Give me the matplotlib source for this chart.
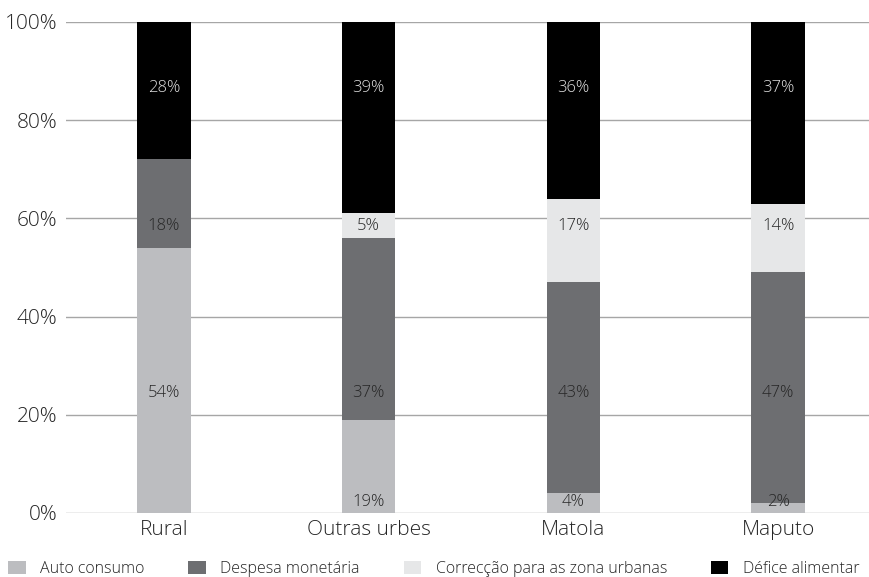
import matplotlib
matplotlib.use("Agg")
import matplotlib.pyplot as plt
import numpy as np

plt.rcParams['font.family'] = ['Open Sans', 'DejaVu Sans']
plt.rcParams['font.weight'] = 'light'

categories = ['Rural', 'Outras urbes', 'Matola', 'Maputo']
series_names = ['Auto consumo', 'Despesa monetária',
                'Correcção para as zona urbanas', 'Défice alimentar']
auto_consumo = [54, 19, 4, 2]
despesa = [18, 37, 43, 47]
correccao = [0, 5, 17, 14]
defice = [28, 39, 36, 37]

colors = ['#bcbdc0', '#6d6e71', '#e6e7e8', '#000000']
text_colors = ['#262626', '#262626', '#262626', '#e0e0e0']
# label heights used in the source chart (data units, per series)
label_y = [[24.4, 58.5, None, 86.6],
           [2.2, 24.4, 58.5, 86.6],
           [2.2, 24.4, 58.5, 86.6],
           [2.2, 24.4, 58.5, 86.6]]

fig = plt.figure(figsize=(8.69, 5.77), dpi=100)
ax = fig.add_axes([0.076, 0.111, 0.924, 0.851])

x = np.arange(len(categories))
series = [auto_consumo, despesa, correccao, defice]
bottom = np.zeros(len(categories))
for i, vals in enumerate(series):
    ax.bar(x, vals, bottom=bottom, width=0.26, color=colors[i],
           label=series_names[i], zorder=3)
    bottom += np.array(vals)

for c in range(len(categories)):
    for i, vals in enumerate(series):
        if vals[c] == 0:
            continue
        ax.text(x[c], label_y[c][i], f'{vals[c]}%', ha='center', va='center',
                fontsize=12, color=text_colors[i], zorder=4)

ax.set_ylim(0, 100)
ax.set_xlim(-0.478, 3.444)
ax.set_yticks(range(0, 101, 20))
ax.set_yticklabels([f'{v}%' for v in range(0, 101, 20)])
ax.set_xticks(x)
ax.set_xticklabels(categories)
ax.tick_params(axis='both', length=0, labelsize=15, colors='#262626')
ax.tick_params(axis='y', pad=6)
ax.tick_params(axis='x', pad=5)
ax.grid(axis='y', color='#a6a6a6', linewidth=1, zorder=0)
for s in ax.spines.values():
    s.set_visible(False)

fig.legend(loc='lower left', bbox_to_anchor=(0.0, -0.014), ncol=4, frameon=False,
           fontsize=11.5, handlelength=1.1, handleheight=0.9, handletextpad=0.9,
           columnspacing=2.75, borderpad=0.3, borderaxespad=0.2,
           labelcolor='#262626')

fig.savefig('out.png', dpi=100)
